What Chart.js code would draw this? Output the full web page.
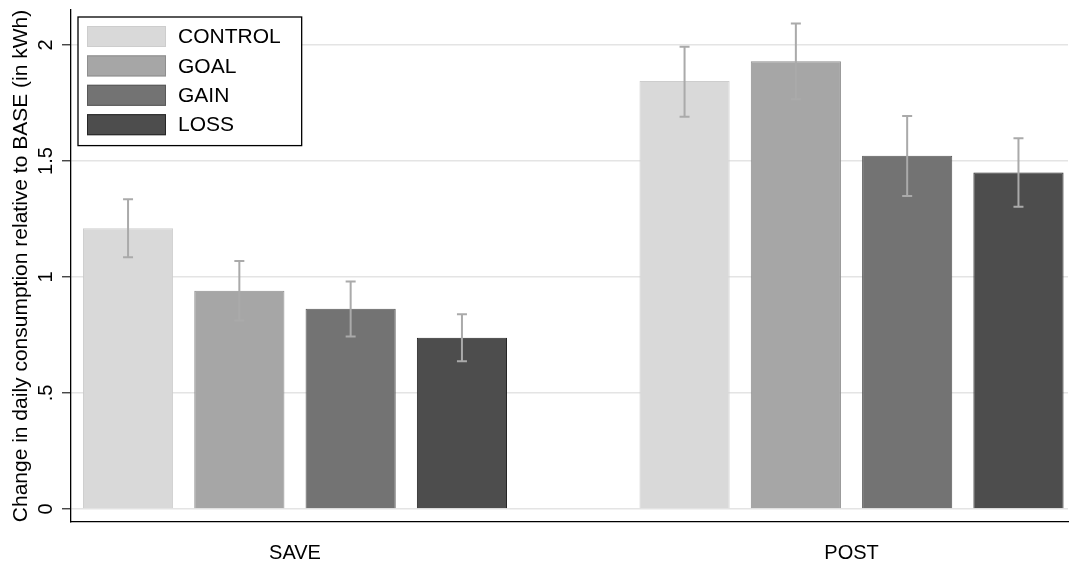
<!DOCTYPE html>
<html>
<head>
<meta charset="utf-8">
<script src="https://cdn.jsdelivr.net/npm/chart.js@4/dist/chart.umd.min.js"></script>
<style>
  html, body { margin: 0; padding: 0; background: #fff; }
  #wrap { width: 1070px; height: 569px; position: relative; }
</style>
</head>
<body>
<div id="wrap"><canvas id="kwhChart"></canvas></div>
<script>
// groups on the x axis and the four treatment arms
const groups = ['SAVE', 'POST'];
const arms = ['CONTROL', 'GOAL', 'GAIN', 'LOSS'];

// mean change in kWh, [SAVE, POST]
const controlVals = [1.21, 1.845];
const goalVals = [0.941, 1.93];
const gainVals = [0.863, 1.523];
const lossVals = [0.738, 1.451];

// confidence intervals [low, high], [SAVE, POST]
const controlErr = [[1.085, 1.335], [1.691, 1.993]];
const goalErr = [[0.813, 1.069], [1.766, 2.093]];
const gainErr = [[0.744, 0.981], [1.349, 1.694]];
const lossErr = [[0.637, 0.839], [1.303, 1.598]];

const yTicks = [0, 0.5, 1, 1.5, 2];
const yTickLabels = ['0', '.5', '1', '1.5', '2'];

const fills = ['#d9d9d9', '#a6a6a6', '#737373', '#4d4d4d'];
const edges = ['#cdcdcd', '#8e8e8e', '#585858', '#262626'];

Chart.defaults.font.family = '"Liberation Sans", Arial, sans-serif';
Chart.defaults.color = '#000';

const allVals = [controlVals, goalVals, gainVals, lossVals];
const allErr = [controlErr, goalErr, gainErr, lossErr];

// grey error bars with caps
const errorBars = {
  id: 'errorBars',
  afterDatasetsDraw(chart) {
    const ctx = chart.ctx;
    const y = chart.scales.y;
    ctx.save();
    ctx.strokeStyle = '#aaaaaa';
    ctx.lineWidth = 2;
    chart.data.datasets.forEach((ds, i) => {
      const meta = chart.getDatasetMeta(i);
      meta.data.forEach((bar, j) => {
        const lo = y.getPixelForValue(allErr[i][j][0]);
        const hi = y.getPixelForValue(allErr[i][j][1]);
        const x = bar.x;
        ctx.beginPath();
        ctx.moveTo(x, lo); ctx.lineTo(x, hi);
        ctx.moveTo(x - 5, lo); ctx.lineTo(x + 5, lo);
        ctx.moveTo(x - 5, hi); ctx.lineTo(x + 5, hi);
        ctx.stroke();
      });
    });
    ctx.restore();
  }
};

// boxed legend inside the plot, top-left
const boxLegend = {
  id: 'boxLegend',
  afterDraw(chart) {
    const ctx = chart.ctx;
    const area = chart.chartArea;
    const left = area.left + 7, top = area.top + 7;
    const rowH = 29.4, swW = 79, swH = 21;
    ctx.save();
    ctx.font = '21px "Liberation Sans", Arial, sans-serif';
    let maxW = 0;
    chart.data.datasets.forEach(ds => { maxW = Math.max(maxW, ctx.measureText(ds.label).width); });
    const w = 9 + swW + 12 + maxW + 21;
    const h = 9 + rowH * chart.data.datasets.length - 8 + 10;
    ctx.fillStyle = '#fff';
    ctx.fillRect(left, top, w, h);
    ctx.strokeStyle = '#000';
    ctx.lineWidth = 1.3;
    ctx.strokeRect(left, top, w, h);
    chart.data.datasets.forEach((ds, i) => {
      const sy = top + 9 + i * rowH;
      ctx.fillStyle = ds.backgroundColor;
      ctx.fillRect(left + 9, sy, swW, swH);
      ctx.strokeStyle = ds.borderColor;
      ctx.lineWidth = 1;
      ctx.strokeRect(left + 9.5, sy + 0.5, swW - 1, swH - 1);
      ctx.fillStyle = '#000';
      ctx.textBaseline = 'middle';
      ctx.fillText(ds.label, left + 9 + swW + 12, sy + swH / 2 + 1);
    });
    ctx.restore();
  }
};

const ctx = document.getElementById('kwhChart').getContext('2d');
new Chart(ctx, {
  type: 'bar',
  data: {
    datasets: arms.map((name, i) => ({
      label: name,
      data: groups.map((g, j) => ({ x: j, y: allVals[i][j] })),
      backgroundColor: fills[i],
      borderColor: edges[i],
      borderWidth: 1,
      categoryPercentage: 0.8,
      barPercentage: 0.81
    }))
  },
  options: {
    responsive: true,
    maintainAspectRatio: false,
    animation: false,
    layout: { padding: { left: 0, top: 10, right: 2, bottom: 0 } },
    plugins: {
      legend: { display: false },
      tooltip: { enabled: false }
    },
    scales: {
      x: {
        type: 'linear',
        offset: false,
        min: -0.4025,
        max: 1.389,
        afterBuildTicks: s => { s.ticks = groups.map((g, j) => ({ value: j })); },
        afterFit: s => { s.height = 47; s.paddingLeft = 0; s.paddingRight = 0; },
        grid: { display: false, drawTicks: false },
        border: { color: '#000', width: 1.3 },
        ticks: {
          padding: 19,
          font: { size: 20 },
          callback: v => groups[v]
        }
      },
      y: {
        min: -0.056,
        max: 2.151,
        afterBuildTicks: s => { s.ticks = yTicks.map(v => ({ value: v })); },
        afterFit: s => { s.width = 71; s.paddingTop = 0; s.paddingBottom = 0; },
        grid: {
          color: '#e4e4e4',
          lineWidth: 1.5,
          tickColor: '#333',
          tickLength: 9,
          tickWidth: 1.3
        },
        border: { color: '#000', width: 1.3 },
        ticks: {
          padding: 2,
          minRotation: 90,
          maxRotation: 90,
          crossAlign: 'center',
          font: { size: 20 },
          callback: v => yTickLabels[yTicks.indexOf(v)]
        },
        title: {
          display: true,
          text: 'Change in daily consumption relative to BASE (in kWh)',
          font: { size: 21 },
          padding: { top: 9, bottom: 0 }
        }
      }
    }
  },
  plugins: [errorBars, boxLegend]
});
</script>
</body>
</html>
